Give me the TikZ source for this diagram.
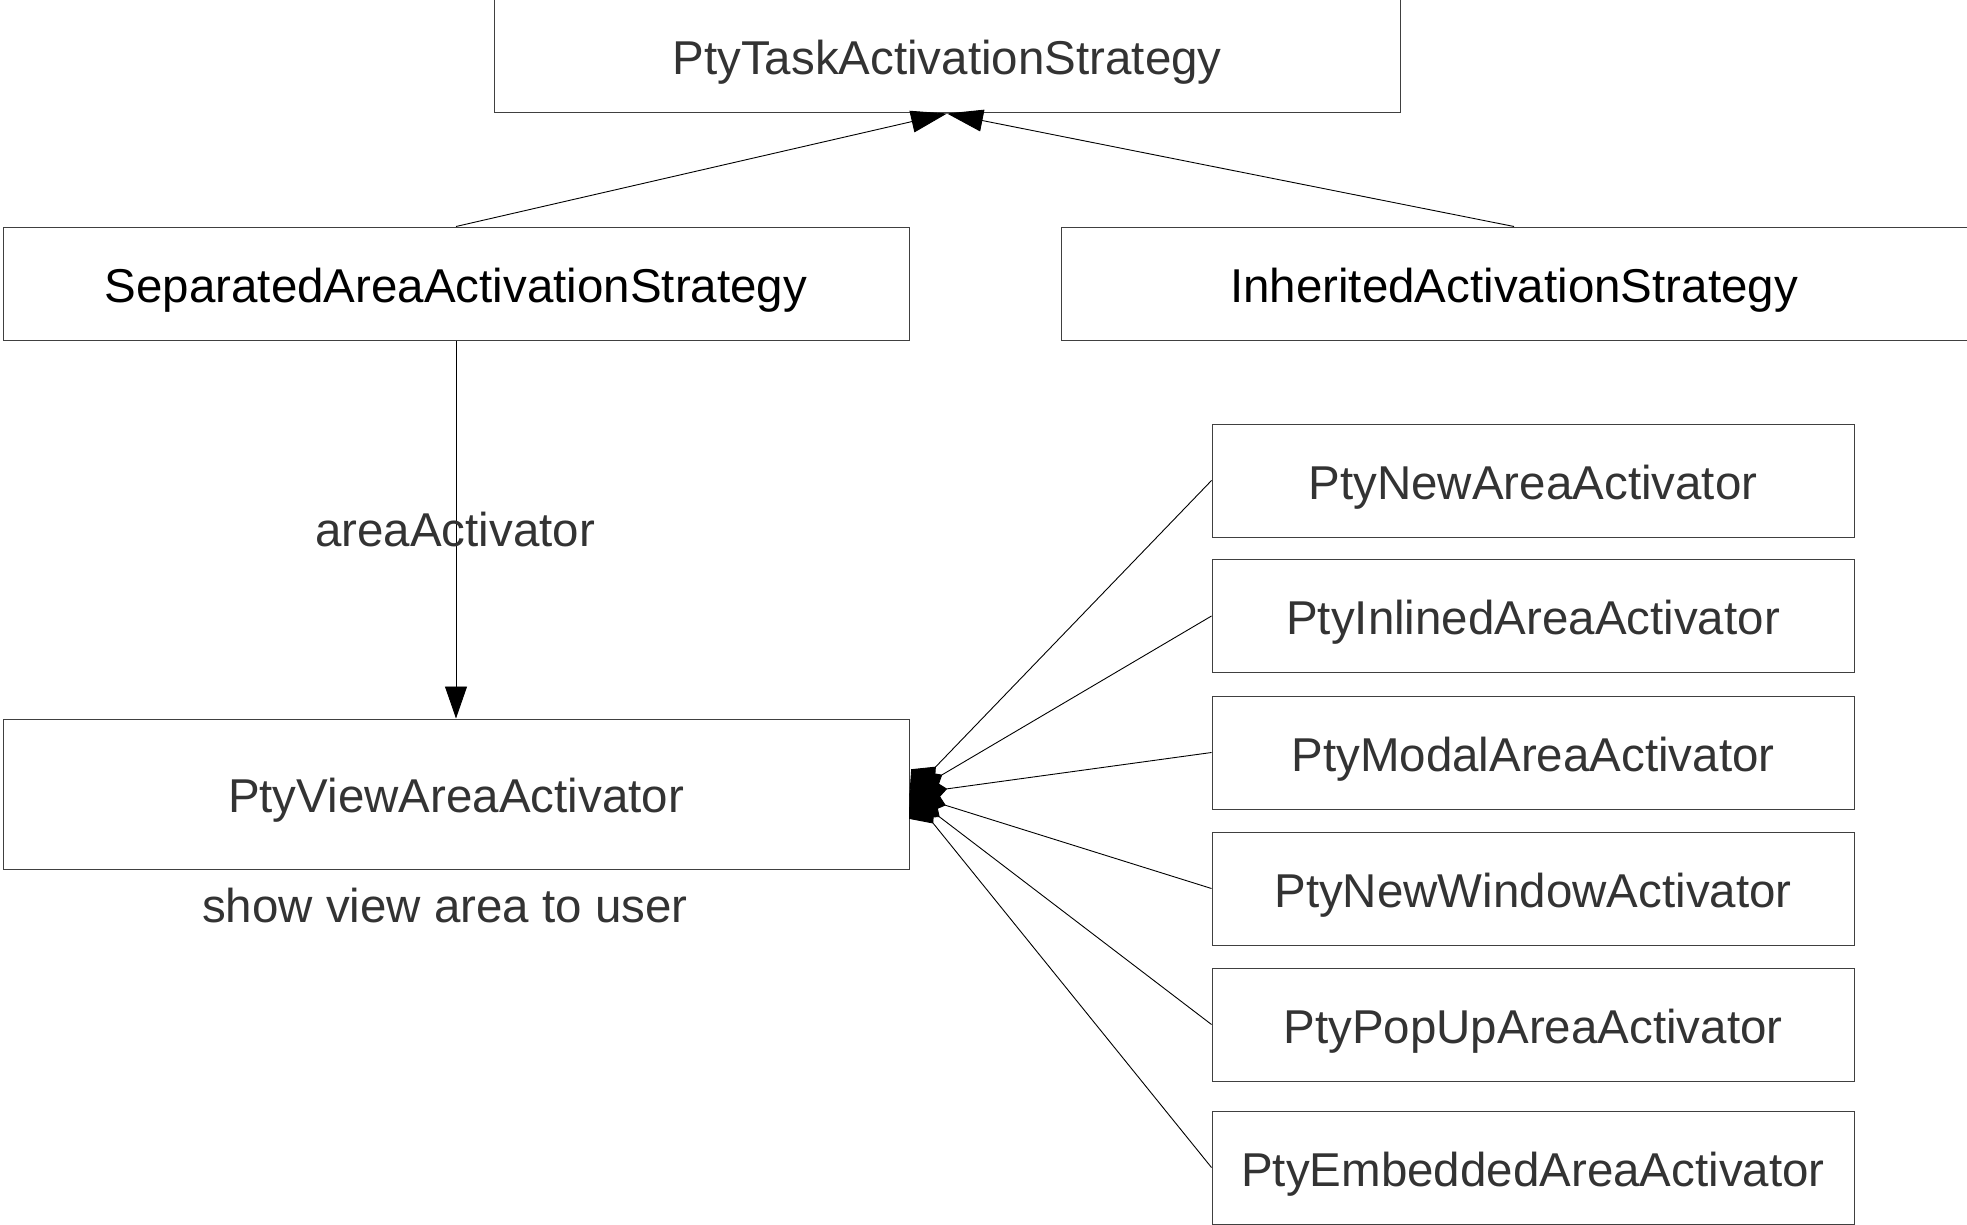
\documentclass[tikz,border=0pt]{standalone}
\usepackage{fontspec}
\setmainfont{Liberation Sans}
\usetikzlibrary{arrows.meta}
\definecolor{txtgrey}{HTML}{333333}
\begin{document}
\begin{tikzpicture}[x=1pt,y=-1pt,
  box/.style={draw=black!75, line width=1pt, inner sep=0pt, text=txtgrey,
    text height=40pt, text depth=3pt,
    font=\fontsize{47.5}{56}\selectfont},
  wide/.style={box, minimum width=906pt, minimum height=113pt},
  small/.style={box, minimum width=642pt, minimum height=113pt},
  lbl/.style={text=txtgrey, inner sep=0pt, font=\fontsize{47.5}{56}\selectfont},
  conn/.style={draw=black, line width=0.9pt},
  inh/.style={conn, -{Triangle[length=36pt,width=22pt]}},
  assoc/.style={conn, -{Triangle[length=32pt,width=22pt]}},
  comp/.style={conn, {Diamond[length=38pt,width=32pt]}-}]
\useasboundingbox (0,0) rectangle (1967,1225);
\node[wide] (top) at (947,56.5) {PtyTaskActivationStrategy};
\node[wide, text=black] (sep) at (456,283.5) {SeparatedAreaActivationStrategy};
\node[wide, text=black] (inh) at (1514,283.5) {InheritedActivationStrategy};
\node[wide, minimum height=150pt] (view) at (456,794) {PtyViewAreaActivator};
\node[small] (r1) at (1533,480.5) {PtyNewAreaActivator};
\node[small] (r2) at (1533,616) {PtyInlinedAreaActivator};
\node[small] (r3) at (1533,752.5) {PtyModalAreaActivator};
\node[small] (r4) at (1533,888.5) {PtyNewWindowActivator};
\node[small] (r5) at (1533,1024.5) {PtyPopUpAreaActivator};
\node[small] (r6) at (1533,1167.5) {PtyEmbeddedAreaActivator};
\draw[inh] (sep.north) -- (top.south);
\draw[inh] (inh.north) -- (top.south);
\draw[assoc] (sep.south) -- (view.north);
\node[lbl] (alabel) at (455,530) {areaActivator};
\node[lbl] (vlabel) at (445,906) {show view area to user};
\foreach \r in {r1,r2,r3,r4,r5,r6}
  \draw[comp] (view.east) -- (\r.west);
\end{tikzpicture}
\end{document}
